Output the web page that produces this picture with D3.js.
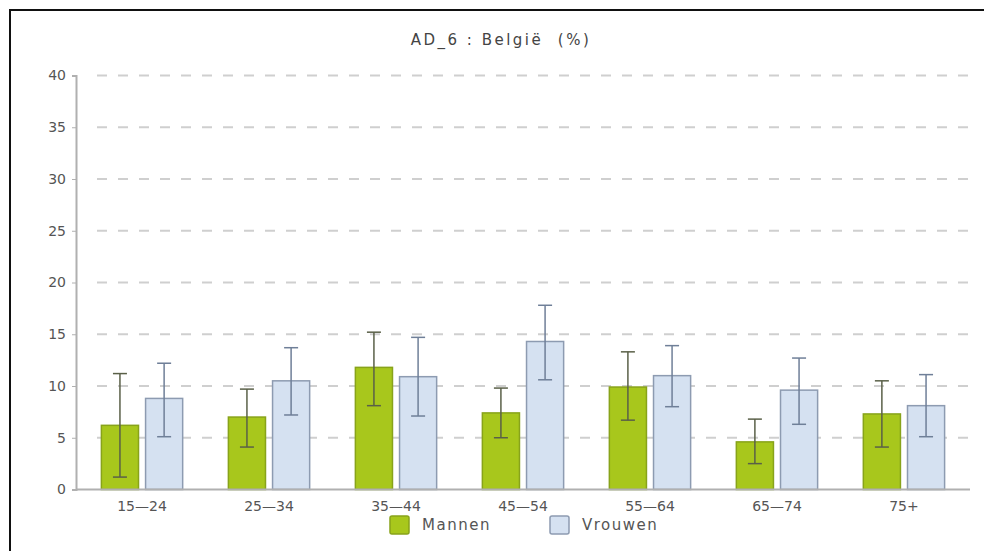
<!DOCTYPE html>
<html>
<head>
<meta charset="utf-8">
<script src="https://cdn.jsdelivr.net/npm/d3@7"></script>
<style>
  body { margin: 0; background: #fff; }
  svg text { font-family: "DejaVu Sans", sans-serif; }
</style>
</head>
<body>
<div id="chart"></div>
<script>
const ageGroups = ["15—24", "25—34", "35—44", "45—54", "55—64", "65—74", "75+"];
const series = ["Mannen", "Vrouwen"];

// percentages and 95% interval bounds
const mannen = [6.2, 7.0, 11.8, 7.4, 9.9, 4.6, 7.3];
const mannenLow = [1.2, 4.1, 8.1, 5.0, 6.7, 2.5, 4.1];
const mannenHigh = [11.2, 9.7, 15.2, 9.8, 13.3, 6.8, 10.5];
const vrouwen = [8.8, 10.5, 10.9, 14.3, 11.0, 9.6, 8.1];
const vrouwenLow = [5.1, 7.2, 7.1, 10.6, 8.0, 6.3, 5.1];
const vrouwenHigh = [12.2, 13.7, 14.7, 17.8, 13.9, 12.7, 11.1];

const yTicks = [0, 5, 10, 15, 20, 25, 30, 35, 40];

const width = 984, height = 551;
const margin = { top: 75.5, right: 14, bottom: 61.5, left: 76 };

const colors = { Mannen: "#a8c71c", Vrouwen: "#d5e1f1" };
const strokes = { Mannen: "#88a31a", Vrouwen: "#8d9bb1" };
const errColors = { Mannen: "#5a6048", Vrouwen: "#6f7f98" };

const rows = ageGroups.map((g, i) => ({
  group: g,
  values: [
    { key: "Mannen", v: mannen[i], lo: mannenLow[i], hi: mannenHigh[i] },
    { key: "Vrouwen", v: vrouwen[i], lo: vrouwenLow[i], hi: vrouwenHigh[i] }
  ]
}));

const svg = d3.select("#chart")
  .append("svg")
  .attr("width", width)
  .attr("height", height);

// outer frame
svg.append("rect")
  .attr("x", 10).attr("y", 10)
  .attr("width", 1000).attr("height", 600)
  .attr("fill", "none")
  .attr("stroke", "#111")
  .attr("stroke-width", 2);

svg.append("text")
  .attr("x", 501).attr("y", 45)
  .attr("text-anchor", "middle")
  .style("font-size", "15px")
  .style("letter-spacing", "2.5px")
  .style("white-space", "pre")
  .attr("fill", "#444")
  .text("AD_6 : België  (%)");

const x0 = d3.scaleBand()
  .domain(ageGroups)
  .range([margin.left, width - margin.right])
  .paddingInner(0.36)
  .paddingOuter(0.2);

const x1 = d3.scaleBand()
  .domain(series)
  .range([0, x0.bandwidth()])
  .paddingInner(0.16)
  .paddingOuter(0);

const y = d3.scaleLinear()
  .domain([0, 40])
  .range([height - margin.bottom, margin.top]);

// dashed grid
svg.append("g")
  .selectAll("line")
  .data(yTicks.filter(d => d > 0))
  .join("line")
  .attr("x1", margin.left + 21)
  .attr("x2", width - 16)
  .attr("y1", d => y(d))
  .attr("y2", d => y(d))
  .attr("stroke", "#cfcfcf")
  .attr("stroke-width", 2)
  .attr("stroke-dasharray", "10,11");

// y axis
const yAxis = svg.append("g")
  .attr("transform", `translate(${margin.left},0)`)
  .call(d3.axisLeft(y).tickValues(yTicks).tickSize(4).tickPadding(6));
yAxis.select(".domain").attr("stroke", "#b0b0b0").attr("stroke-width", 2);
yAxis.selectAll(".tick line").attr("stroke", "#b0b0b0");
yAxis.selectAll(".tick text")
  .attr("fill", "#555")
  .style("font-size", "14px")
  .style("font-family", "DejaVu Sans, sans-serif");

// bars
const group = svg.append("g")
  .selectAll("g")
  .data(rows)
  .join("g")
  .attr("transform", d => `translate(${x0(d.group)},0)`);

group.selectAll("rect")
  .data(d => d.values)
  .join("rect")
  .attr("x", d => x1(d.key))
  .attr("y", d => y(d.v))
  .attr("width", x1.bandwidth())
  .attr("height", d => y(0) - y(d.v))
  .attr("fill", d => colors[d.key])
  .attr("stroke", d => strokes[d.key])
  .attr("stroke-width", 1.5);

// error bars
const err = group.selectAll("g.err")
  .data(d => d.values)
  .join("g")
  .attr("class", "err")
  .attr("stroke", d => errColors[d.key])
  .attr("stroke-width", 1.5);

err.append("line")
  .attr("x1", d => x1(d.key) + x1.bandwidth() / 2)
  .attr("x2", d => x1(d.key) + x1.bandwidth() / 2)
  .attr("y1", d => y(d.lo))
  .attr("y2", d => y(d.hi));

["lo", "hi"].forEach(k => {
  err.append("line")
    .attr("x1", d => x1(d.key) + x1.bandwidth() / 2 - 7)
    .attr("x2", d => x1(d.key) + x1.bandwidth() / 2 + 7)
    .attr("y1", d => y(d[k]))
    .attr("y2", d => y(d[k]));
});

// x axis
svg.append("line")
  .attr("x1", margin.left)
  .attr("x2", width - margin.right)
  .attr("y1", y(0))
  .attr("y2", y(0))
  .attr("stroke", "#b0b0b0")
  .attr("stroke-width", 2);

svg.append("g")
  .selectAll("text")
  .data(ageGroups)
  .join("text")
  .attr("x", d => x0(d) + x0.bandwidth() / 2)
  .attr("y", y(0) + 21)
  .attr("text-anchor", "middle")
  .attr("fill", "#555")
  .style("font-size", "14px")
  .text(d => d);

// legend
const legend = svg.append("g")
  .selectAll("g")
  .data(series)
  .join("g")
  .attr("transform", (d, i) => `translate(${390 + i * 160},516)`);

legend.append("rect")
  .attr("width", 19).attr("height", 18)
  .attr("rx", 2)
  .attr("fill", d => colors[d])
  .attr("stroke", d => strokes[d])
  .attr("stroke-width", 1.5);

legend.append("text")
  .attr("x", 32).attr("y", 14)
  .attr("fill", "#555")
  .style("font-size", "15px")
  .style("letter-spacing", "1.5px")
  .text(d => d);
</script>
</body>
</html>
